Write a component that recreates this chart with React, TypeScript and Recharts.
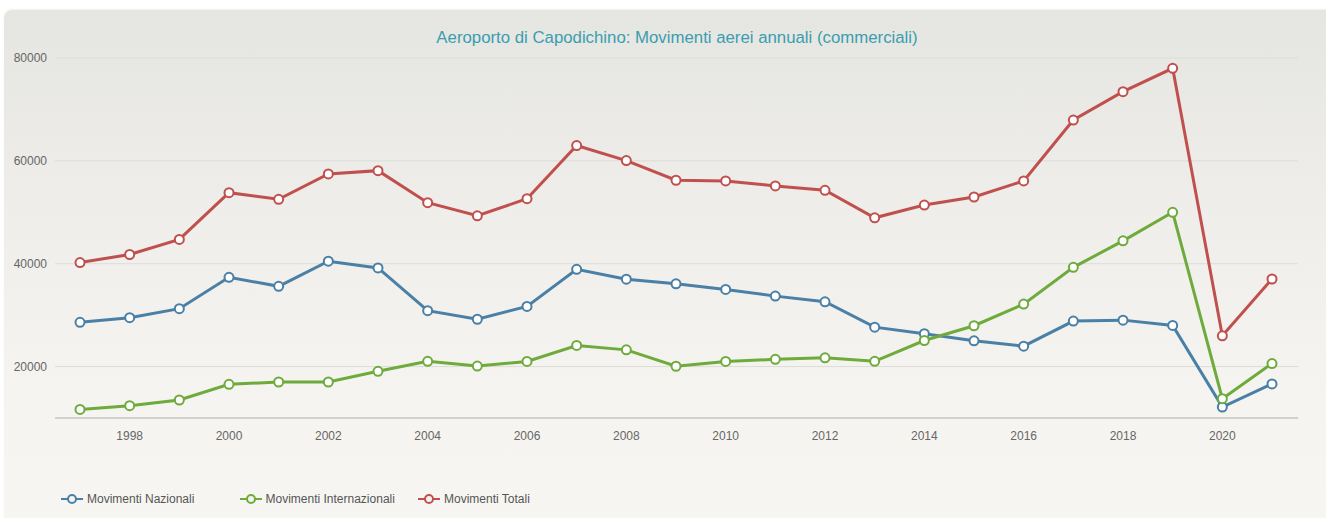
import { LineChart, Line, XAxis, YAxis, CartesianGrid, Legend } from "recharts"

const years = [1997, 1998, 1999, 2000, 2001, 2002, 2003, 2004, 2005, 2006, 2007, 2008, 2009, 2010, 2011, 2012, 2013, 2014, 2015, 2016, 2017, 2018, 2019, 2020, 2021]
const nazionali = [28600, 29500, 31260, 37360, 35600, 40490, 39180, 30870, 29200, 31700, 38900, 37000, 36100, 35000, 33700, 32600, 27670, 26380, 25010, 23960, 28840, 29030, 28000, 12140, 16620]
const internazionali = [11670, 12390, 13500, 16550, 17000, 17000, 19080, 21030, 20100, 21000, 24100, 23250, 20060, 21000, 21400, 21700, 21030, 25070, 27940, 32150, 39300, 44450, 50000, 13760, 20590]
const totali = [40230, 41790, 44720, 53810, 52520, 57460, 58100, 51860, 49320, 52640, 62980, 60050, 56230, 56090, 55120, 54280, 48930, 51410, 52970, 56090, 67940, 73460, 78000, 25990, 37030]

const seriesNames = ["Movimenti Nazionali", "Movimenti Internazionali", "Movimenti Totali"]
const xTicks = [1998, 2000, 2002, 2004, 2006, 2008, 2010, 2012, 2014, 2016, 2018, 2020]
const yTicks = [20000, 40000, 60000, 80000]

const title = "Aeroporto di Capodichino: Movimenti aerei annuali (commerciali)"

const FONT = "'Liberation Sans', Arial, sans-serif"

// Legend with fixed-width items, icon = line with hollow circle
function LegendContent({ payload }: any) {
  const items = [...(payload || [])].sort((a: any, b: any) => seriesNames.indexOf(a.value) - seriesNames.indexOf(b.value))
  return (
    <div style={{ display: "flex", paddingLeft: 61, fontFamily: FONT, fontSize: 12, color: "#555" }}>
      {items.map((p: any) => (
        <div key={p.value} style={{ width: 178.5, display: "flex", alignItems: "center" }}>
          <svg width={22} height={12} style={{ marginRight: 4 }}>
            <line x1={0} y1={6} x2={22} y2={6} stroke={p.color} strokeWidth={2} />
            <circle cx={11} cy={6} r={4} fill="#f4f3ef" stroke={p.color} strokeWidth={2} />
          </svg>
          <span>{p.value}</span>
        </div>
      ))}
    </div>
  )
}

export default function App() {
  const data = years.map((year, i) => ({
    year,
    naz: nazionali[i],
    int: internazionali[i],
    tot: totali[i],
  }))

  return (
    <div style={{ position: "absolute", left: 0, top: 0, width: 1326, height: 518, background: "#fff", overflow: "hidden" }}>
      <div
        style={{
          position: "absolute",
          left: 4,
          top: 10,
          width: 1330,
          height: 520,
          borderRadius: 8,
          background: "linear-gradient(to bottom, #e5e5e1 0%, #efeeea 40%, #f5f4f0 75%, #f7f6f2 100%)",
          boxShadow: "0 -1px 2px rgba(0,0,0,0.06)",
        }}
      />
      <div
        style={{
          position: "absolute",
          left: 0,
          top: 28,
          width: 1354,
          textAlign: "center",
          fontFamily: FONT,
          fontSize: 16.8,
          color: "#3a9eb0",
        }}
      >
        {title}
      </div>
      <div style={{ position: "absolute", left: 0, top: 0 }}>
        <LineChart width={1326} height={518} data={data} margin={{ top: 58, right: 28, left: 0, bottom: 54 }}>
          <CartesianGrid horizontal vertical={false} stroke="#dcdcd8" />
          <XAxis
            dataKey="year"
            type="category"
            ticks={xTicks}
            interval={0}
            padding={{ left: 25, right: 26 }}
            axisLine={{ stroke: "#d0d0cc", strokeWidth: 2 }}
            tickLine={false}
            tickMargin={7}
            tick={{ fontSize: 12, fill: "#666", fontFamily: FONT }}
          />
          <YAxis
            domain={[10000, 80000]}
            ticks={yTicks}
            width={55}
            axisLine={false}
            tickLine={false}
            tickMargin={2}
            tick={{ fontSize: 12, fill: "#666", fontFamily: FONT }}
          />
          <Legend
            verticalAlign="bottom"
            content={<LegendContent />}
            wrapperStyle={{ left: 0, bottom: 10, width: 1326, height: 16 }}
          />
          <Line
            name={seriesNames[0]}
            dataKey="naz"
            stroke="#4a7fa6"
            strokeWidth={3}
            dot={{ r: 4.5, fill: "#fff", stroke: "#4a7fa6", strokeWidth: 2 }}
            isAnimationActive={false}
          />
          <Line
            name={seriesNames[1]}
            dataKey="int"
            stroke="#6eab3c"
            strokeWidth={3}
            dot={{ r: 4.5, fill: "#fff", stroke: "#6eab3c", strokeWidth: 2 }}
            isAnimationActive={false}
          />
          <Line
            name={seriesNames[2]}
            dataKey="tot"
            stroke="#c0504d"
            strokeWidth={3}
            dot={{ r: 4.5, fill: "#fff", stroke: "#c0504d", strokeWidth: 2 }}
            isAnimationActive={false}
          />
        </LineChart>
      </div>
    </div>
  )
}
